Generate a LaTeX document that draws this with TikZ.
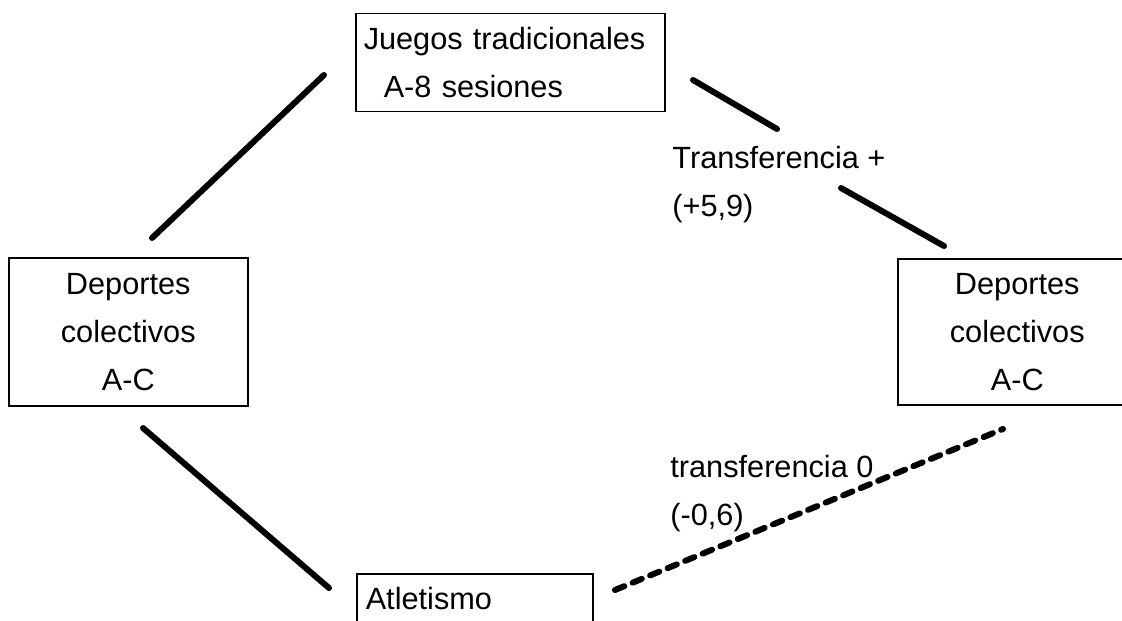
\documentclass[tikz,border=0pt]{standalone}
\usepackage{fontspec}
\setmainfont{Liberation Sans}
\usetikzlibrary{positioning}

\begin{document}
\begin{tikzpicture}[
    x=0.5pt, y=-0.5pt,
    every node/.style={font=\fontsize{15.35}{24}\selectfont},
    box/.style={draw, line width=0.75pt, anchor=north west, inner sep=0pt},
    link/.style={line width=3pt, line cap=round},
    nolink/.style={link, dash pattern=on 5pt off 4.5pt},
    note/.style={align=left, inner sep=0pt, anchor=north west},
]
\useasboundingbox (0,0) rectangle (1122,620);

% boxes
\node[box, minimum width=154.5pt, minimum height=49pt, inner xsep=4pt,
      text width=146.5pt, align=left] (juegos) at (355,13)
      {Juegos tradicionales\\\hspace*{10pt}A-8 sesiones};
\node[box, minimum width=119.5pt, minimum height=74pt, align=center] (colizq) at (8,257)
      {Deportes\\colectivos\\A-C};
\node[box, minimum width=119.5pt, minimum height=73pt, align=center] (colder) at (897,258)
      {Deportes\\colectivos\\A-C};
\node[box, minimum width=118pt, minimum height=25pt, inner xsep=4.5pt,
      text width=109pt, align=left] (atletismo) at (356,573) {Atletismo};

% labels
\node[note] (lblpos) at (672,146) {Transferencia +\\(+5,9)};
\node[note] (lblcero) at (670,455) {transferencia 0\\(-0,6)};

% line ends
\coordinate (j1) at (324,75);
\coordinate (ci1) at (152,238);
\coordinate (j2) at (693,80);
\coordinate (p1) at (777,129);
\coordinate (p2) at (841,188);
\coordinate (cd1) at (944,246);
\coordinate (ci2) at (143,428);
\coordinate (at1) at (329,588);
\coordinate (at2) at (615,590);
\coordinate (cd2) at (1003,429);

\draw[link] (j1) -- (ci1);
\draw[link] (j2) -- (p1);
\draw[link] (p2) -- (cd1);
\draw[link] (ci2) -- (at1);
\draw[nolink] (at2) -- (cd2);
\end{tikzpicture}
\end{document}
